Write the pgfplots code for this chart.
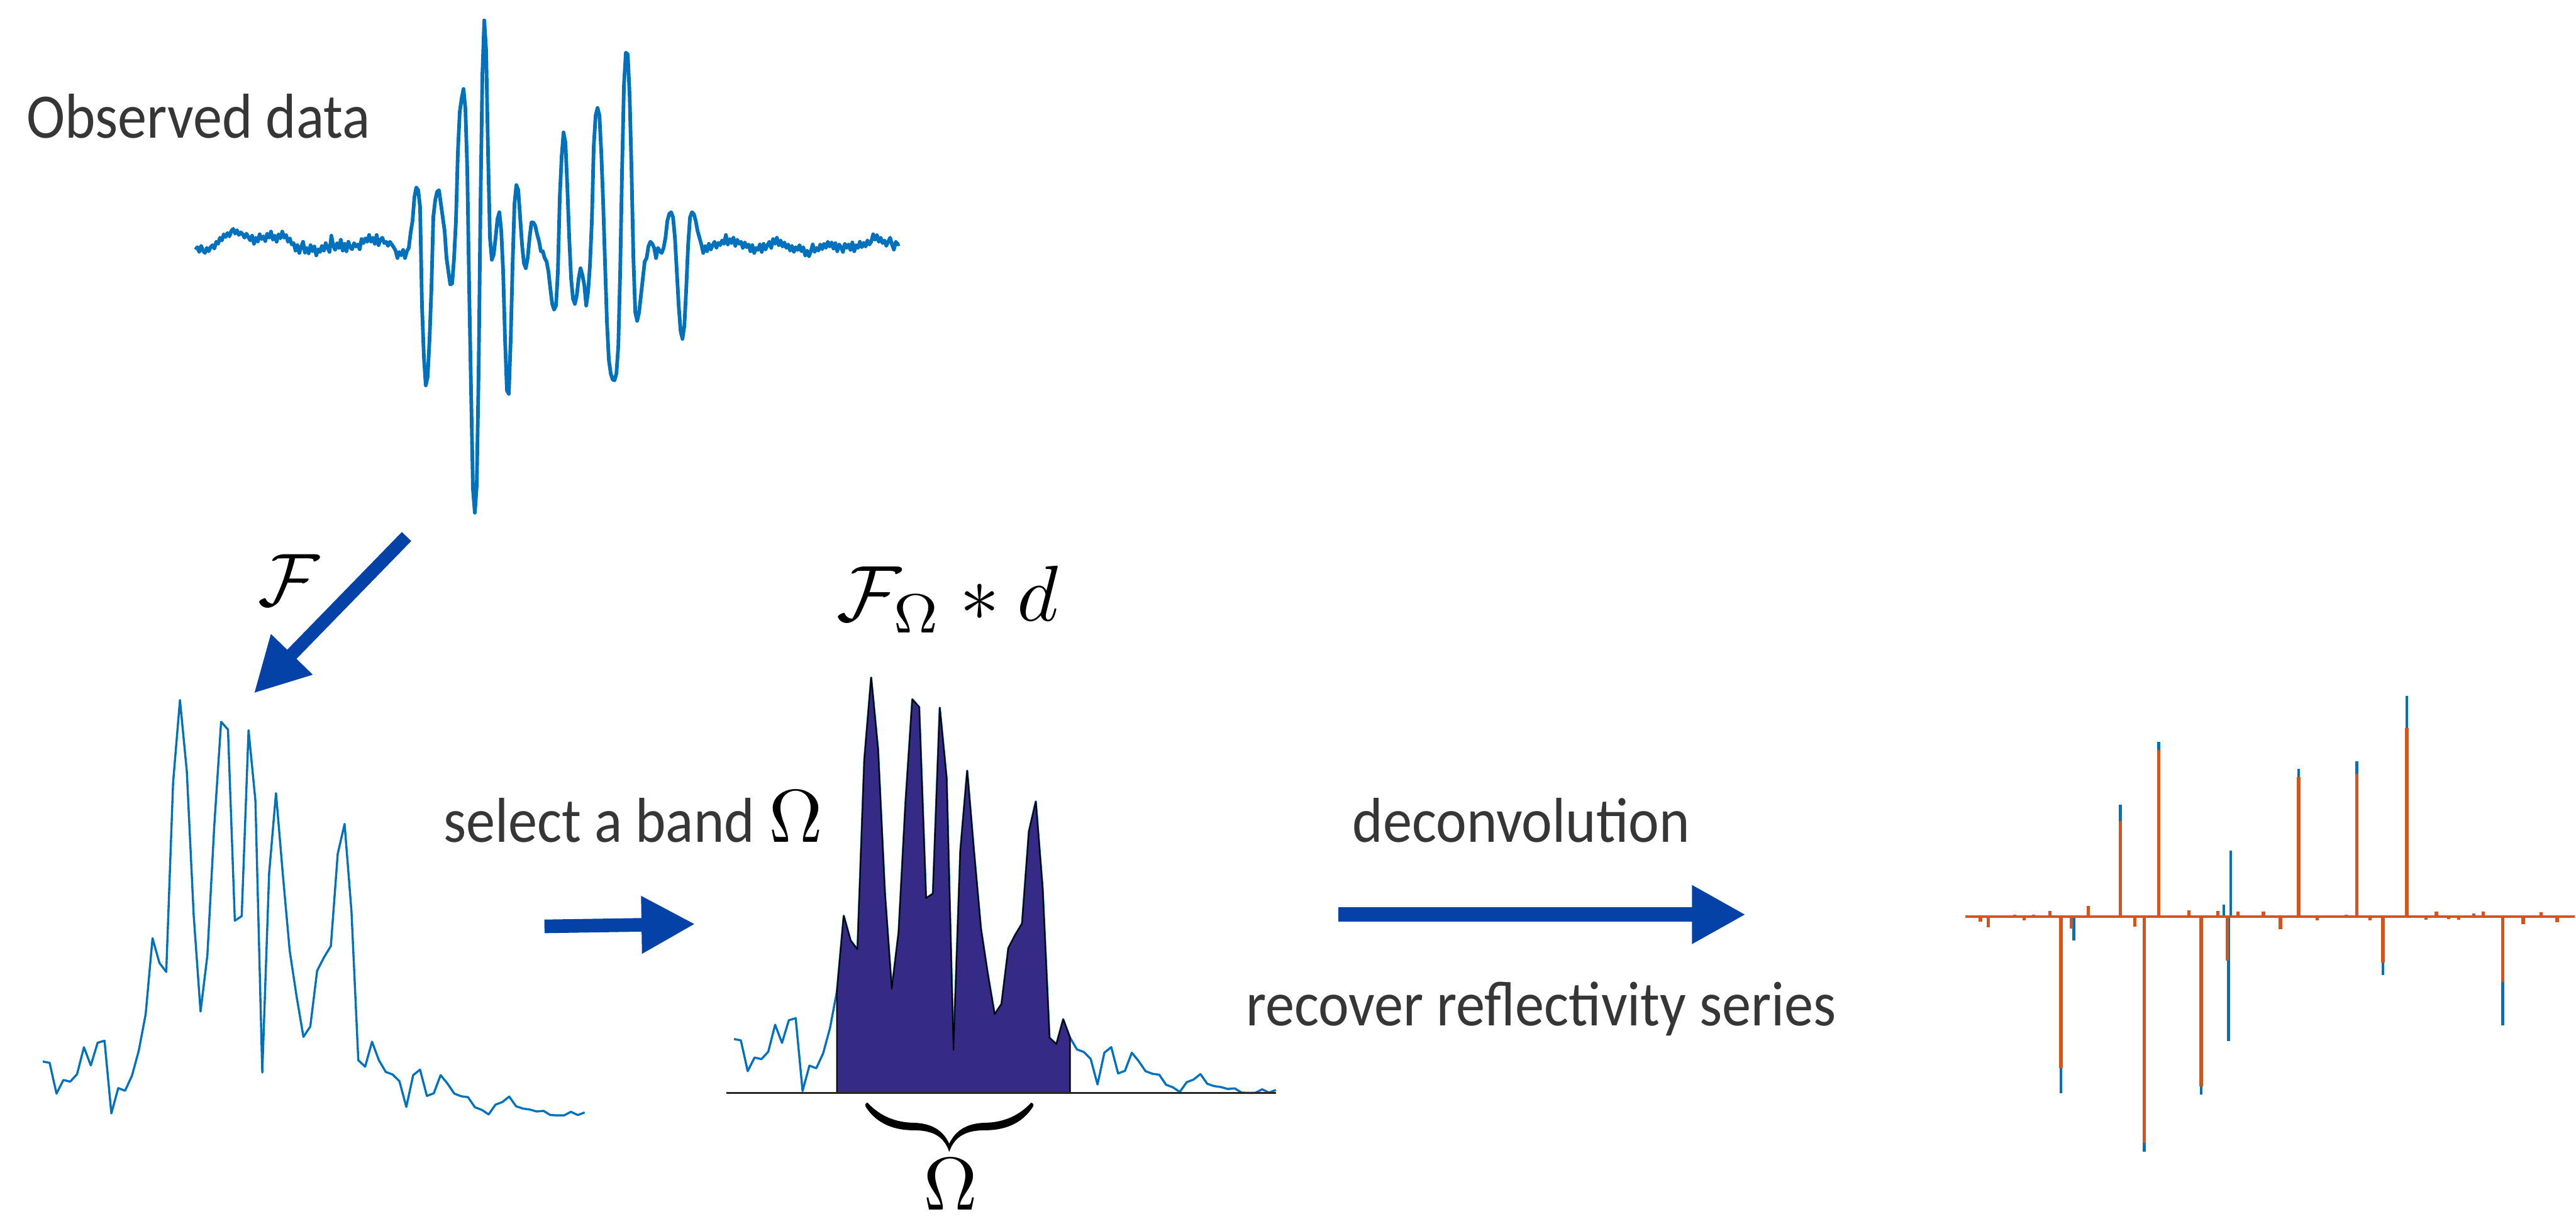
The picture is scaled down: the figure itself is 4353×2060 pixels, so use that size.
\documentclass[border=0pt]{standalone}
\usepackage{amsmath}
\usepackage[no-math]{fontspec}
\setmainfont{Carlito}
\usepackage{graphicx}
\usepackage{pgfplots}
\usepackage{pgfplotstable}
\pgfplotsset{compat=1.18}
\usetikzlibrary{arrows.meta}

\definecolor{mblue}{RGB}{0,114,189}
\definecolor{morange}{RGB}{217,83,25}
\definecolor{arrowblue}{RGB}{4,66,168}
\definecolor{bandfill}{RGB}{53,42,134}
\definecolor{textgray}{RGB}{54,54,54}

\pgfplotsset{panel/.style={scale only axis, hide axis, clip=false, anchor=south west}}
\newcommand{\bigmath}[1]{{\normalsize\scalebox{3.6}{$#1$}}}

% amplitude spectrum |F d|, one value per frequency bin
\pgfplotstableread{
i a
0 166
1 162
2 67
3 109
4 104
5 127
6 210
7 154
8 224
9 230
10 6
11 84
12 76
13 122
14 200
15 312
16 546
17 470
18 442
19 1026
20 1280
21 1060
22 617
23 320
24 494
25 892
26 1213
27 1189
28 600
29 614
30 1187
31 970
32 132
33 746
34 993
35 742
36 507
37 367
38 242
39 274
40 446
41 487
42 522
43 806
44 898
45 630
46 170
47 150
48 227
49 170
50 134
51 126
52 105
53 26
54 124
55 141
56 60
57 68
58 124
59 98
60 67
61 59
62 56
63 25
64 17
65 3
66 33
67 41
68 58
69 28
70 21
71 18
72 12
73 14
74 1
75 0
76 0
77 11
78 1
79 9
}\spec

% reflectivity: true (blue) and recovered (orange)
\pgfplotstableread{
t r
296 -521
328 -70
443 330
502 -693
537 515
642 -524
698 36
710 -367
715 195
883 435
1027 457
1091 -172
1150 649
1387 -321
}\refltrue

\pgfplotstableread{
t r
97 -14
117 -32
182 6
205 -12
228 6
269 16
296 -447
322 -35
364 31
443 281
478 -30
502 -667
537 490
558 4
612 18
642 -499
683 17
707 -130
733 15
796 15
838 -37
883 411
929 -12
1000 6
1027 420
1059 -12
1091 -135
1150 555
1197 -9
1223 15
1253 -7
1278 -10
1315 10
1339 15
1387 -192
1437 -23
1481 12
1521 -17
}\reflrec

\begin{document}
\begin{tikzpicture}[x=0.1mm, y=0.1mm]
\useasboundingbox (0,0) rectangle (4353,2060);

% observed trace
\begin{axis}[panel, at={(33.03mm,119.32mm)}, width=118.98mm, height=83.35mm,
    xmin=38, xmax=1530, ymin=-780, ymax=672]
\addplot[mblue, line width=0.62mm, line join=round] table[row sep=\\, x=t, y expr=730-\thisrow{d}] {
t d\\ 38 735\\ 42 728\\ 46 742\\ 50 724\\ 54 738\\ 58 745\\ 62 730\\ 66 740\\ 70 728\\ 74 722\\
78 732\\ 82 712\\ 86 718\\ 90 700\\ 94 708\\ 98 690\\ 102 698\\ 106 686\\ 110 696\\ 114 680\\
118 674\\ 122 688\\ 126 678\\ 130 692\\ 134 684\\ 138 690\\ 142 700\\ 146 688\\ 150 698\\ 154 708\\
158 694\\ 162 718\\ 166 700\\ 170 712\\ 174 690\\ 178 704\\ 182 696\\ 186 710\\ 190 688\\ 194 700\\
198 682\\ 202 706\\ 206 694\\ 210 712\\ 214 690\\ 218 702\\ 222 682\\ 226 700\\ 230 692\\ 234 712\\
238 702\\ 242 720\\ 246 716\\ 250 738\\ 254 722\\ 258 745\\ 262 728\\ 266 712\\ 270 744\\ 274 730\\
278 746\\ 282 722\\ 286 740\\ 290 726\\ 294 752\\ 298 734\\ 302 742\\ 306 724\\ 310 738\\ 314 716\\
318 730\\ 322 742\\ 326 694\\ 330 724\\ 334 736\\ 338 716\\ 342 730\\ 346 706\\ 350 738\\ 354 718\\
358 740\\ 362 712\\ 366 728\\ 370 734\\ 374 716\\ 378 726\\ 382 720\\ 386 734\\ 390 704\\ 394 716\\
398 702\\ 402 712\\ 406 692\\ 410 712\\ 414 700\\ 418 718\\ 422 692\\ 426 722\\ 430 706\\ 434 700\\
438 716\\ 442 712\\ 446 724\\ 450 712\\ 454 720\\ 458 728\\ 462 738\\ 466 760\\ 470 742\\ 474 752\\
478 736\\ 482 760\\ 486 740\\ 490 730\\ 494 685\\ 498 650\\ 502 580\\ 506 552\\ 510 560\\ 514 610\\
518 900\\ 522 1050\\ 526 1135\\ 530 1110\\ 534 1000\\ 538 850\\ 542 640\\ 546 590\\ 550 565\\ 554 560\\
558 600\\ 562 640\\ 566 680\\ 570 760\\ 574 800\\ 578 838\\ 582 835\\ 586 760\\ 590 650\\ 594 450\\
598 330\\ 602 290\\ 606 262\\ 610 320\\ 614 500\\ 618 850\\ 622 1150\\ 626 1440\\ 630 1510\\ 634 1430\\
638 1100\\ 642 600\\ 646 220\\ 650 60\\ 654 150\\ 658 450\\ 662 700\\ 666 765\\ 670 750\\ 674 700\\
678 645\\ 682 625\\ 686 680\\ 690 800\\ 694 1000\\ 698 1150\\ 702 1160\\ 706 1000\\ 710 780\\ 714 600\\
718 545\\ 722 560\\ 726 640\\ 730 720\\ 734 775\\ 738 790\\ 742 760\\ 746 700\\ 750 655\\ 754 655\\
758 665\\ 762 690\\ 766 710\\ 770 740\\ 774 740\\ 778 760\\ 782 770\\ 786 800\\ 790 850\\ 794 895\\
798 912\\ 802 900\\ 806 800\\ 810 580\\ 814 460\\ 818 390\\ 822 420\\ 826 550\\ 830 700\\ 834 820\\
838 880\\ 842 895\\ 846 870\\ 850 820\\ 854 790\\ 858 810\\ 862 840\\ 866 900\\ 870 860\\ 874 780\\
878 650\\ 882 430\\ 886 340\\ 890 318\\ 894 340\\ 898 450\\ 902 600\\ 906 780\\ 910 950\\ 914 1060\\
918 1100\\ 922 1118\\ 926 1120\\ 930 1100\\ 934 1020\\ 938 800\\ 942 500\\ 946 250\\ 950 155\\ 954 160\\
958 280\\ 962 500\\ 966 760\\ 970 920\\ 974 945\\ 978 920\\ 982 870\\ 986 820\\ 990 770\\ 994 760\\
998 725\\ 1002 712\\ 1006 718\\ 1010 730\\ 1014 760\\ 1018 730\\ 1022 740\\ 1026 745\\ 1030 730\\ 1034 700\\
1038 650\\ 1042 630\\ 1046 625\\ 1050 640\\ 1054 700\\ 1058 800\\ 1062 900\\ 1066 975\\ 1070 998\\ 1074 960\\
1078 850\\ 1082 720\\ 1086 640\\ 1090 625\\ 1094 630\\ 1098 650\\ 1102 680\\ 1106 700\\ 1110 720\\ 1114 745\\
1118 725\\ 1122 740\\ 1126 718\\ 1130 735\\ 1134 722\\ 1138 712\\ 1142 730\\ 1146 715\\ 1150 722\\ 1154 708\\
1158 718\\ 1162 692\\ 1166 720\\ 1170 704\\ 1174 716\\ 1178 700\\ 1182 724\\ 1186 706\\ 1190 718\\ 1194 712\\
1198 730\\ 1202 714\\ 1206 728\\ 1210 720\\ 1214 740\\ 1218 722\\ 1222 745\\ 1226 730\\ 1230 736\\ 1234 720\\
1238 742\\ 1242 718\\ 1246 735\\ 1250 722\\ 1254 712\\ 1258 730\\ 1262 704\\ 1266 718\\ 1270 700\\ 1274 722\\
1278 708\\ 1282 726\\ 1286 714\\ 1290 730\\ 1294 720\\ 1298 738\\ 1302 724\\ 1306 742\\ 1310 728\\ 1314 736\\
1318 722\\ 1322 740\\ 1326 728\\ 1330 752\\ 1334 738\\ 1338 755\\ 1342 740\\ 1346 720\\ 1350 742\\ 1354 730\\
1358 738\\ 1362 720\\ 1366 734\\ 1370 718\\ 1374 730\\ 1378 712\\ 1382 726\\ 1386 714\\ 1390 732\\ 1394 716\\
1398 740\\ 1402 720\\ 1406 728\\ 1410 742\\ 1414 718\\ 1418 730\\ 1422 720\\ 1426 736\\ 1430 714\\ 1434 740\\
1438 722\\ 1442 730\\ 1446 712\\ 1450 728\\ 1454 715\\ 1458 726\\ 1462 708\\ 1466 720\\ 1470 712\\ 1474 690\\
1478 706\\ 1482 692\\ 1486 712\\ 1490 700\\ 1494 716\\ 1498 708\\ 1502 724\\ 1506 712\\ 1510 700\\ 1514 720\\
1518 735\\ 1522 712\\ 1526 720\\ 1530 718\\
};
\end{axis}

% spectrum
\begin{axis}[panel, at={(7.23mm,17.45mm)}, width=91.57mm, height=70.21mm,
    xmin=0, xmax=79, ymin=0, ymax=1280]
\addplot[mblue, line width=0.36mm, line join=round] table[x=i, y=a] {\spec};
\end{axis}

% spectrum with the selected band
\begin{axis}[panel, at={(124.03mm,21.25mm)}, width=91.57mm, height=70.21mm,
    xmin=0, xmax=79, ymin=0, ymax=1280]
\addplot[mblue, line width=0.36mm, line join=round] table[x=i, y=a] {\spec};
\addplot[fill=bandfill, draw=black, line width=0.22mm, line join=round,
    restrict x to domain=15:49] table[x=i, y=a] {\spec} \closedcycle;
\addplot[black!85, line width=0.27mm] coordinates {(-1.1,0) (79,0)};
\end{axis}

% reflectivity series
\begin{axis}[panel, at={(332.11mm,11.27mm)}, width=102.94mm, height=77.04mm,
    xmin=60, xmax=1564, ymin=-693, ymax=649]
\addplot[mblue, ycomb, line width=0.5mm] table[x=t, y=r] {\refltrue};
\addplot[morange, line width=0.45mm] coordinates {(60,0) (1564,0)};
\addplot[morange, ycomb, line width=0.56mm] table[x=t, y=r] {\reflrec};
\end{axis}

% arrows
\draw[arrowblue, line width=2.2mm, -{Triangle[length=9.2mm, width=9.2mm]}] (687,1153) -- (429,888);
\draw[arrowblue, line width=2.3mm, -{Triangle[length=9.1mm, width=9.1mm]}] (920,494) -- (1175,498);
\draw[arrowblue, line width=2.4mm, -{Triangle[length=9.1mm, width=9.3mm]}] (2261,514) -- (2950,514);

% brace under the band
\begin{scope}[shift={(1380,240)}, xscale=1/3, yscale=-1/3]
\fill[black] (258,132) .. controls (320,200) and (400,232) .. (490,234)
  .. controls (580,236) and (640,270) .. (672,340)
  .. controls (705,270) and (765,236) .. (855,234)
  .. controls (945,232) and (1025,200) .. (1087,132)
  .. controls (1100,135) and (1102,145) .. (1095,155)
  .. controls (1040,240) and (950,272) .. (855,272)
  .. controls (760,272) and (700,300) .. (672,382)
  .. controls (645,300) and (585,272) .. (490,272)
  .. controls (395,272) and (305,240) .. (250,155)
  .. controls (243,145) and (245,135) .. (258,132) -- cycle;
\end{scope}

% labels
\begin{scope}[every node/.style={inner sep=0pt}]
\node[anchor=base west, text=textgray, xscale=0.915] at (44.6,1826.7) {\fontsize{30.5}{36}\selectfont Observed data};
\node[anchor=base west, text=textgray] at (749,636) {\fontsize{30.5}{36}\selectfont\scalebox{0.915}[1]{select a band}\ \textcolor{black}{\bigmath{\Omega}}};
\node[anchor=base west, text=textgray, xscale=0.915] at (2285,636) {\fontsize{30.5}{36}\selectfont deconvolution};
\node[anchor=base west, text=textgray, xscale=0.915] at (2105,326) {\fontsize{30.5}{36}\selectfont recover reflectivity series};
\node at (487.5,1079) {\bigmath{\mathcal{F}}};
\node at (1601,1046.5) {{\normalsize\scalebox{3.8}{$\mathcal{F}_\Omega * d$}}};
\node at (1606,58) {\bigmath{\Omega}};
\end{scope}
\end{tikzpicture}
\end{document}
